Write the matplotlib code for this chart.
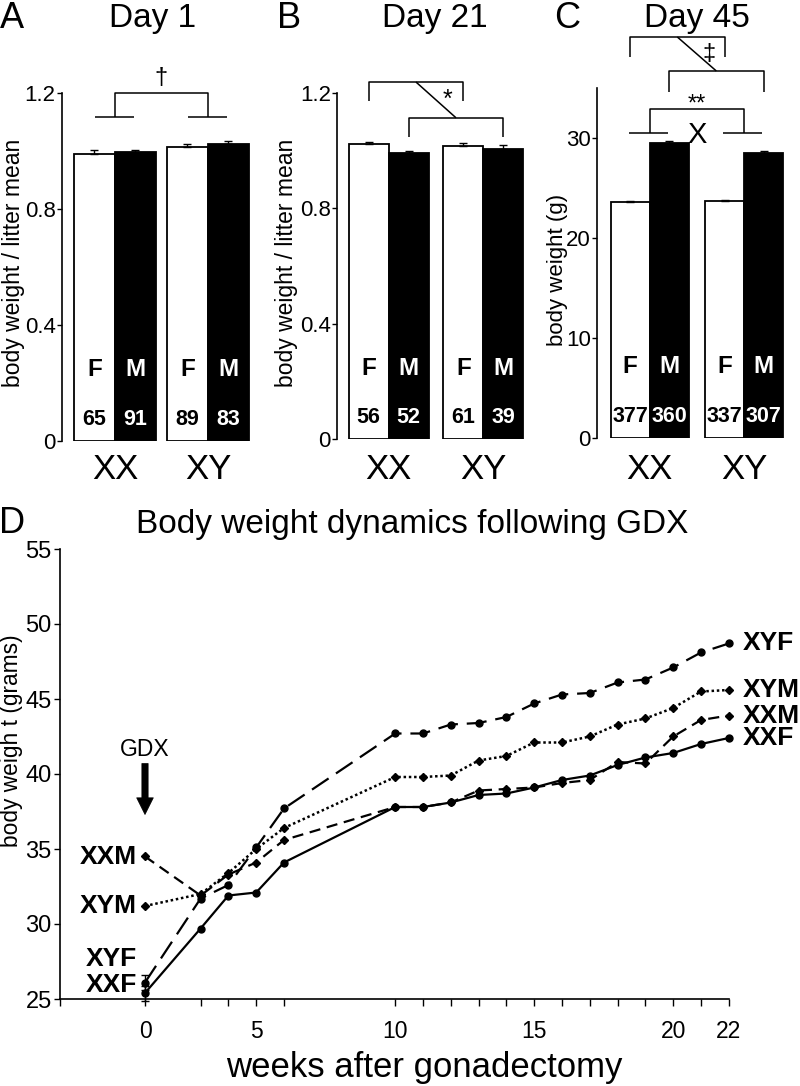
import matplotlib
matplotlib.use('Agg')
import matplotlib.pyplot as plt
from matplotlib.transforms import blended_transform_factory

plt.rcParams['font.family'] = ['Liberation Sans', 'DejaVu Sans']

# ---------------- data ----------------
groups = ['XX', 'XY']
sex_labels = ['F', 'M', 'F', 'M']          # bar order: XX F, XX M, XY F, XY M

day1_vals = [0.990, 0.996, 1.014, 1.024]
day1_err = [0.012, 0.008, 0.010, 0.010]
day1_n = ['65', '91', '89', '83']

day21_vals = [1.023, 0.992, 1.016, 1.006]
day21_err = [0.008, 0.006, 0.012, 0.012]
day21_n = ['56', '52', '61', '39']

day45_vals = [23.6, 29.5, 23.7, 28.5]
day45_err = [0.15, 0.20, 0.15, 0.20]
day45_n = ['377', '360', '337', '307']

weeks = [0, 2, 3, 4, 5, 9, 10, 11, 12, 13, 14, 15, 16, 17, 18, 19, 20, 21]
week_tick_pos = [0, 4, 9, 14, 19, 21]
week_tick_labels = ['0', '5', '10', '15', '20', '22']

xxf = [25.4, 29.7, 31.9, 32.1, 34.1, 37.8, 37.8, 38.1, 38.6, 38.7, 39.1, 39.6, 39.9, 40.6, 41.1, 41.4, 42.0, 42.4]
xyf = [26.1, 31.7, 32.6, 35.1, 37.7, 42.7, 42.7, 43.3, 43.4, 43.8, 44.7, 45.3, 45.4, 46.1, 46.3, 47.1, 48.1, 48.7]
xxm = [34.5, 31.9, 33.3, 34.1, 35.6, 37.8, 37.8, 38.1, 38.9, 39.0, 39.1, 39.4, 39.6, 40.8, 40.7, 42.5, 43.6, 43.9]
xym = [31.2, 32.0, 33.4, 35.0, 36.4, 39.8, 39.8, 39.9, 40.9, 41.2, 42.1, 42.1, 42.5, 43.3, 43.7, 44.4, 45.5, 45.6]
week0_err_f = [0.5, 0.5]   # XXF, XYF at week 0

W, H = 800, 1086
fig = plt.figure(figsize=(W / 100, H / 100), dpi=100)


def fx(px):
    return px / W


def fy(py):
    return 1 - py / H


LW = 1.1


def bar_panel(left_px, base_px, top_px, unit_px, ylim, yticks, yticklabels, vals, errs, ns, gap, xl):
    ax = fig.add_axes([fx(left_px), fy(base_px), (xl[1] - xl[0]) * unit_px / W, (base_px - top_px) / H])
    pos = [0, 1, 2 + gap, 3 + gap]
    colors = ['white', 'black', 'white', 'black']
    ax.bar(pos, vals, width=1, color=colors, edgecolor='black', linewidth=1.3, zorder=2)
    ax.errorbar(pos, vals, yerr=[[0] * 4, errs], fmt='none', ecolor='black',
                capsize=3, elinewidth=1, capthick=1, zorder=3)
    ax.set_xlim(*xl)
    ax.set_ylim(*ylim)
    ax.set_yticks(yticks)
    ax.set_yticklabels(yticklabels)
    ax.set_xticks([])
    for s in ['top', 'right', 'bottom']:
        ax.spines[s].set_visible(False)
    ax.spines['left'].set_linewidth(1.2)
    ax.tick_params(axis='y', length=3.5, width=1, labelsize=16, pad=1)
    tr = blended_transform_factory(ax.transData, ax.transAxes)
    for p, s, n, c in zip(pos, sex_labels, ns, colors):
        tc = 'white' if c == 'black' else 'black'
        ax.text(p, 0.205, s, transform=tr, ha='center', va='center', fontsize=17.5,
                fontweight='bold', color=tc, zorder=4)
        ax.text(p, 0.062, n, transform=tr, ha='center', va='center', fontsize=15.5,
                fontweight='bold', color=tc, zorder=4)
    trf = blended_transform_factory(ax.transData, fig.transFigure)
    for gx, g in zip([0.5, 2.5 + gap], groups):
        ax.text(gx, fy(479), g, transform=trf, ha='center', va='baseline', fontsize=25)
    return ax, pos


def line(ax, xs, ys):
    ax.plot(xs, ys, color='black', lw=LW, clip_on=False, solid_capstyle='butt')


# ---------- Panel A ----------
axA, pA = bar_panel(62, 441, 93, 41, (0, 1.2), [0, 0.4, 0.8, 1.2], ['0', '0.4', '0.8', '1.2'],
                    day1_vals, day1_err, day1_n, 0.27, (-0.79, 4.1))
cA1 = (pA[0] + pA[1]) / 2
cA2 = (pA[2] + pA[3]) / 2
line(axA, [cA1 - 0.48, cA1 + 0.46], [1.117, 1.117])
line(axA, [cA2 - 0.48, cA2 + 0.46], [1.117, 1.117])
line(axA, [cA1, cA1, cA2, cA2], [1.117, 1.2, 1.2, 1.117])
axA.text((cA1 + cA2) / 2, 1.25, '\u2020', ha='center', va='center', fontsize=17)
fig.text(fx(14), fy(263), 'body weight / litter mean', rotation=90, ha='center', va='center', fontsize=16.5)

# ---------- Panel B ----------
axB, pB = bar_panel(337, 439, 93, 40, (0, 1.2), [0, 0.4, 0.8, 1.2], ['0', '0.4', '0.8', '1.2'],
                    day21_vals, day21_err, day21_n, 0.37, (-0.79, 4.1))
line(axB, [pB[0], pB[0], pB[2], pB[2]], [1.171, 1.238, 1.238, 1.171])
line(axB, [pB[1], pB[1], pB[3], pB[3]], [1.047, 1.114, 1.114, 1.047])
line(axB, [(pB[0] + pB[2]) / 2, (pB[1] + pB[3]) / 2], [1.238, 1.114])
axB.text(1.96, 1.175, '*', ha='center', va='center', fontsize=18)
fig.text(fx(287), fy(263), 'body weight / litter mean', rotation=90, ha='center', va='center', fontsize=16.5)

# ---------- Panel C ----------
axC, pC = bar_panel(597, 438, 88, 39, (0, 35), [0, 10, 20, 30], ['0', '10', '20', '30'],
                    day45_vals, day45_err, day45_n, 0.42, (-0.85, 4.05))
line(axC, [pC[0], pC[0], pC[2], pC[2]], [38.1, 40.1, 40.1, 38.1])
line(axC, [pC[1], pC[1], pC[3], pC[3]], [34.6, 36.7, 36.7, 34.6])
line(axC, [(pC[0] + pC[2]) / 2, (pC[1] + pC[3]) / 2], [40.1, 36.7])
axC.text(2.03, 38.4, '\u2021', ha='center', va='center', fontsize=17)
gC1 = (pC[0] + pC[1]) / 2
gC2 = (pC[2] + pC[3]) / 2
line(axC, [gC1, gC1, gC2, gC2], [30.5, 32.9, 32.9, 30.5])
line(axC, [gC1 - 0.53, gC1 + 0.47], [30.5, 30.5])
line(axC, [gC2 - 0.53, gC2 + 0.47], [30.5, 30.5])
axC.text((gC1 + gC2) / 2, 33.3, '**', ha='center', va='center', fontsize=17)
axC.text((gC1 + gC2) / 2, 30.3, 'X', ha='center', va='center', fontsize=21)
fig.text(fx(558), fy(270), 'body weight (g)', rotation=90, ha='center', va='center', fontsize=16)

# titles & letters
for xp, t in [(153, 'Day 1'), (435, 'Day 21'), (697, 'Day 45')]:
    fig.text(fx(xp), fy(27), t, ha='center', va='baseline', fontsize=24)
for xp, t in [(12, 'A'), (289, 'B'), (567, 'C')]:
    fig.text(fx(xp), fy(28), t, ha='center', va='baseline', fontsize=26)

# ---------- Panel D ----------
ppw = 27.8
x_left = (60 - 145) / ppw
axD = fig.add_axes([fx(60), fy(999), (21 - x_left) * ppw / W, (999 - 549) / H])
axD.set_xlim(x_left, 21)
axD.set_ylim(25, 55)

axD.plot(weeks, xxf, color='black', lw=1.6, marker='o', ms=5, clip_on=False, zorder=3)
axD.plot(weeks, xyf, color='black', lw=1.6, marker='o', ms=5, dashes=(9, 4), clip_on=False, zorder=3)
axD.plot(weeks, xxm, color='black', lw=1.6, marker='D', ms=4.5, dashes=(5, 3), clip_on=False, zorder=3)
axD.plot(weeks, xym, color='black', lw=1.8, marker='D', ms=4.5, dashes=(1, 1.1), clip_on=False, zorder=3)
axD.errorbar([weeks[0], weeks[0]], [xxf[0], xyf[0]], yerr=week0_err_f, fmt='none', ecolor='black',
             capsize=3, elinewidth=1, capthick=1, clip_on=False, zorder=3)

for s in ['top', 'right']:
    axD.spines[s].set_visible(False)
for s in ['left', 'bottom']:
    axD.spines[s].set_linewidth(1.2)
axD.set_yticks([25, 30, 35, 40, 45, 50, 55])
axD.tick_params(axis='y', length=4, width=1, labelsize=17, pad=2)
tick_labels = [week_tick_labels[week_tick_pos.index(w)] if w in week_tick_pos else '' for w in weeks]
axD.set_xticks([x_left] + weeks)
axD.set_xticklabels([''] + tick_labels)
axD.tick_params(axis='x', length=5, width=1, labelsize=16.5, pad=10)

# series labels
for y, t in [(xxm[0], 'XXM'), (xym[0], 'XYM'), (27.7, 'XYF'), (25.95, 'XXF')]:
    axD.text(-0.29, y, t, ha='right', va='center', fontsize=19, fontweight='bold')
for y, t in [(xyf[-1], 'XYF'), (xym[-1], 'XYM'), (xxm[-1], 'XXM'), (xxf[-1], 'XXF')]:
    axD.text(21.5, y, t, ha='left', va='center', fontsize=19, fontweight='bold', clip_on=False)

axD.annotate('', xy=(0, 37.3), xytext=(0, 40.7),
             arrowprops=dict(arrowstyle='simple,head_length=1.2,head_width=1.2,tail_width=0.45',
                             mutation_scale=10, fc='black', ec='black', lw=0.5, shrinkA=0, shrinkB=0))
axD.text(0, 41.6, 'GDX', ha='center', va='center', fontsize=16.5)

fig.text(fx(12), fy(741), 'body weigh t (grams)', rotation=90, ha='center', va='center', fontsize=16.4)
fig.text(fx(424), fy(1077), 'weeks after gonadectomy', ha='center', va='baseline', fontsize=25)
fig.text(fx(412), fy(533), 'Body weight dynamics following GDX', ha='center', va='baseline', fontsize=24)
fig.text(fx(12), fy(533), 'D', ha='center', va='baseline', fontsize=26)

fig.savefig('out.png', dpi=100)
